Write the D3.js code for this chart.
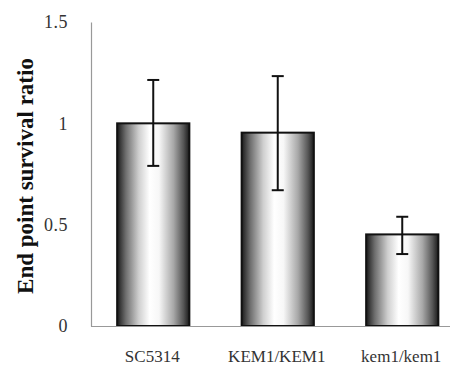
<!DOCTYPE html>
<html>
<head>
<meta charset="utf-8">
<script src="https://cdn.jsdelivr.net/npm/d3@7"></script>
<style>
  body { margin: 0; background: #fff; }
  svg { display: block; }
</style>
</head>
<body>
<div id="chart"></div>
<script>
// data
const strains = ["SC5314", "KEM1/KEM1", "kem1/kem1"];
const ratio = [1.0, 0.954, 0.452];
const errLow = [0.79, 0.67, 0.355];
const errHigh = [1.214, 1.233, 0.539];
const yTicks = [0, 0.5, 1, 1.5];

const W = 450, H = 367;
const margin = { top: 22, left: 91, bottom: 41 };
const plotH = H - margin.top - margin.bottom;
const serif = "Liberation Serif";

const svg = d3.select("#chart").append("svg")
    .attr("width", W)
    .attr("height", H);

// cylinder-like shading
const grad = svg.append("defs").append("linearGradient")
    .attr("id", "barShade")
    .attr("x1", "0%").attr("x2", "100%").attr("y1", "0%").attr("y2", "0%");
[[0, "#1a1a1a"], [0.12, "#6e6e6e"], [0.3, "#cfcfcf"], [0.45, "#ffffff"], [0.58, "#f7f7f7"],
 [0.78, "#a8a8a8"], [0.92, "#555"], [1, "#1a1a1a"]].forEach(s => {
    grad.append("stop").attr("offset", s[0]).attr("stop-color", s[1]);
});

const x = d3.scaleBand()
    .domain(strains)
    .range([margin.left, margin.left + 373.5])
    .paddingInner(0.42)
    .paddingOuter(0.21);

const y = d3.scaleLinear()
    .domain([0, 1.5])
    .range([margin.top + plotH, margin.top]);

// y axis
const yAxis = svg.append("g")
    .attr("transform", "translate(" + margin.left + ",0)")
    .call(d3.axisLeft(y).tickValues(yTicks).tickFormat(d => d).tickSize(0).tickPadding(23));
yAxis.select(".domain").attr("stroke", "#999").attr("stroke-width", 1.2);
yAxis.selectAll("text")
    .style("font-family", serif)
    .style("font-size", "18px")
    .style("letter-spacing", "0.5px")
    .attr("fill", "#333");

// bars
svg.selectAll("rect.bar")
    .data(strains)
    .enter()
    .append("rect")
    .attr("class", "bar")
    .attr("x", d => x(d))
    .attr("width", x.bandwidth())
    .attr("y", (d, i) => y(ratio[i]))
    .attr("height", (d, i) => y(0) - y(ratio[i]))
    .attr("fill", "url(#barShade)")
    .attr("stroke", "#111")
    .attr("stroke-width", 2);

// x axis line (drawn over bar bottoms)
svg.append("line")
    .attr("x1", margin.left)
    .attr("x2", W)
    .attr("y1", y(0) + 0.5)
    .attr("y2", y(0) + 0.5)
    .attr("stroke", "#999")
    .attr("stroke-width", 1.2);

// error bars
const cap = 6;
strains.forEach((d, i) => {
    const cx = x(d) + x.bandwidth() / 2;
    const g = svg.append("g").attr("stroke", "#111").attr("stroke-width", 2);
    g.append("line").attr("x1", cx).attr("x2", cx).attr("y1", y(errLow[i])).attr("y2", y(errHigh[i]));
    g.append("line").attr("x1", cx - cap).attr("x2", cx + cap).attr("y1", y(errLow[i])).attr("y2", y(errLow[i]));
    g.append("line").attr("x1", cx - cap).attr("x2", cx + cap).attr("y1", y(errHigh[i])).attr("y2", y(errHigh[i]));
});

// category labels
svg.selectAll("text.cat")
    .data(strains)
    .enter()
    .append("text")
    .attr("class", "cat")
    .attr("x", d => x(d) + x.bandwidth() / 2 - 1)
    .attr("y", 362)
    .attr("text-anchor", "middle")
    .style("font-family", serif)
    .style("font-size", "17px")
    .attr("fill", "#333")
    .text(d => d);

// y axis title
svg.append("text")
    .attr("transform", "translate(33,176) rotate(-90)")
    .attr("text-anchor", "middle")
    .style("font-family", serif)
    .style("font-size", "23px")
    .style("font-weight", "bold")
    .attr("fill", "#111")
    .text("End point survival ratio");
</script>
</body>
</html>
